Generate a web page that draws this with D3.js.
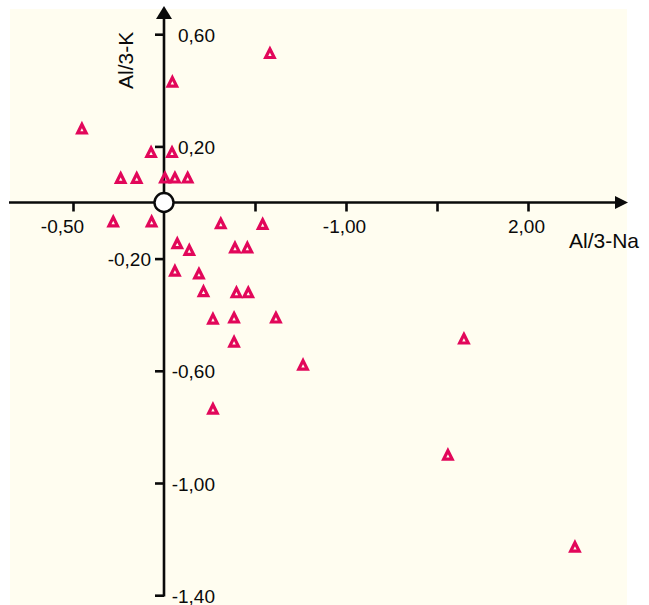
<!DOCTYPE html>
<html>
<head>
<meta charset="utf-8">
<script src="https://cdn.jsdelivr.net/npm/d3@7"></script>
<style>
  html, body { margin: 0; padding: 0; background: #ffffff; }
  svg { display: block; font-family: "Liberation Sans", Arial, sans-serif; }
</style>
</head>
<body>
<svg id="chart" width="649" height="605"></svg>
<script>
// Samples: Al/3-Na (x) against Al/3-K (y)
const alNa = [0.582, 0.046, -0.451, -0.071, 0.044, -0.238, -0.150, 0.005, 0.060, 0.130,
              -0.279, -0.068, 0.312, 0.542, 0.073, 0.139, 0.390, 0.458, 0.060, 0.192,
              0.217, 0.398, 0.463, 0.269, 0.385, 0.615, 0.385, 0.764, 0.269, 1.648,
              1.560, 2.258];
const alK  = [0.535, 0.433, 0.266, 0.182, 0.182, 0.090, 0.090, 0.091, 0.091, 0.091,
              -0.065, -0.065, -0.072, -0.074, -0.143, -0.167, -0.158, -0.158, -0.241, -0.251,
              -0.314, -0.318, -0.318, -0.412, -0.408, -0.408, -0.494, -0.576, -0.733, -0.483,
              -0.897, -1.225];

// Axis ticks and their printed labels
const xTickValues = [-0.5, 0.5, 1.0, 1.5, 2.0];
const xTickLabels = ["-0,50", "", "-1,00", "", "2,00"];
const yTickValues = [0.6, 0.2, -0.2, -0.6, -1.0, -1.4];
const yTickLabels = ["0,60", "0,20", "-0,20", "-0,60", "-1,00", "-1,40"];

const xTitle = "Al/3-Na";
const yTitle = "Al/3-K";

const svg = d3.select("#chart");

// cream plotting panel
svg.append("rect")
  .attr("x", 10).attr("y", 9)
  .attr("width", 617).attr("height", 596)
  .attr("fill", "#fffdf0");

const x = d3.scaleLinear().domain([0, 2]).range([164, 528]);
const y = d3.scaleLinear().domain([0, -1.4]).range([202.5, 595.2]);

const ink = "#0a0a0a";
const x0 = x(0), y0 = y(0);
const tickFont = 19;

// x axis (ticks hang below the line)
const xAxis = d3.axisBottom(x)
  .tickValues(xTickValues)
  .tickSize(9)
  .tickPadding(8)
  .tickFormat((d, i) => xTickLabels[i]);

const gx = svg.append("g")
  .attr("transform", `translate(0,${y0})`)
  .call(xAxis);
gx.select(".domain").remove();
gx.selectAll(".tick line").attr("stroke", ink).attr("stroke-width", 2.6);
gx.selectAll(".tick text")
  .attr("fill", ink)
  .attr("font-size", tickFont)
  .attr("font-family", "Liberation Sans, Arial, sans-serif")
  .attr("dx", (d) => d < 0 ? -11 : -2);

// y axis (ticks point left, labels mostly right of the line)
const yAxis = d3.axisLeft(y)
  .tickValues(yTickValues)
  .tickSize(9)
  .tickFormat((d, i) => yTickLabels[i]);

const gy = svg.append("g")
  .attr("transform", `translate(${x0},0)`)
  .call(yAxis);
gy.select(".domain").remove();
gy.selectAll(".tick line").attr("stroke", ink).attr("stroke-width", 2.6);
gy.selectAll(".tick text")
  .attr("fill", ink)
  .attr("font-size", tickFont)
  .attr("font-family", "Liberation Sans, Arial, sans-serif")
  .attr("text-anchor", "end")
  .attr("x", (d) => Math.abs(d + 0.2) < 1e-9 ? -13 : 51)
  .attr("dy", "0.37em");

// main axis lines with arrowheads
svg.append("line")
  .attr("x1", 9).attr("x2", 617)
  .attr("y1", y0).attr("y2", y0)
  .attr("stroke", ink).attr("stroke-width", 2.6);
svg.append("path")
  .attr("d", d3.line()([[615, y0 - 6.5], [628, y0], [615, y0 + 6.5]]) + "Z")
  .attr("fill", ink);

svg.append("line")
  .attr("x1", x0).attr("x2", x0)
  .attr("y1", 17).attr("y2", y(-1.4) + 1.3)
  .attr("stroke", ink).attr("stroke-width", 2.6);
svg.append("path")
  .attr("d", d3.line()([[x0 - 8, 19], [x0, 6], [x0 + 8, 19]]) + "Z")
  .attr("fill", ink);

// axis titles
svg.append("text")
  .attr("x", 569).attr("y", 248)
  .attr("font-size", 21)
  .attr("fill", ink)
  .text(xTitle);

svg.append("text")
  .attr("transform", "translate(133,89) rotate(-90)")
  .attr("font-size", 21)
  .attr("fill", ink)
  .text(yTitle);

// origin marker
svg.append("circle")
  .attr("cx", x0).attr("cy", y0)
  .attr("r", 9.5)
  .attr("fill", "#ffffff")
  .attr("stroke", ink)
  .attr("stroke-width", 2.4);

// open triangle symbol, centred on its bounding box
const openTriangle = {
  draw(context, size) {
    const h = Math.sqrt(size);
    const w = h * 0.5;
    context.moveTo(0, -h / 2);
    context.lineTo(w, h / 2);
    context.lineTo(-w, h / 2);
    context.closePath();
  }
};
const tri = d3.symbol().type(openTriangle).size(72);

const points = alNa.map((v, i) => ({ na: v, k: alK[i] }));
svg.append("g")
  .selectAll("path")
  .data(points)
  .join("path")
  .attr("transform", (d) => `translate(${x(d.na)},${y(d.k) + 0.8})`)
  .attr("d", tri)
  .attr("fill", "none")
  .attr("stroke", "#e2075a")
  .attr("stroke-width", 3.2)
  .attr("stroke-linejoin", "miter");
</script>
</body>
</html>
